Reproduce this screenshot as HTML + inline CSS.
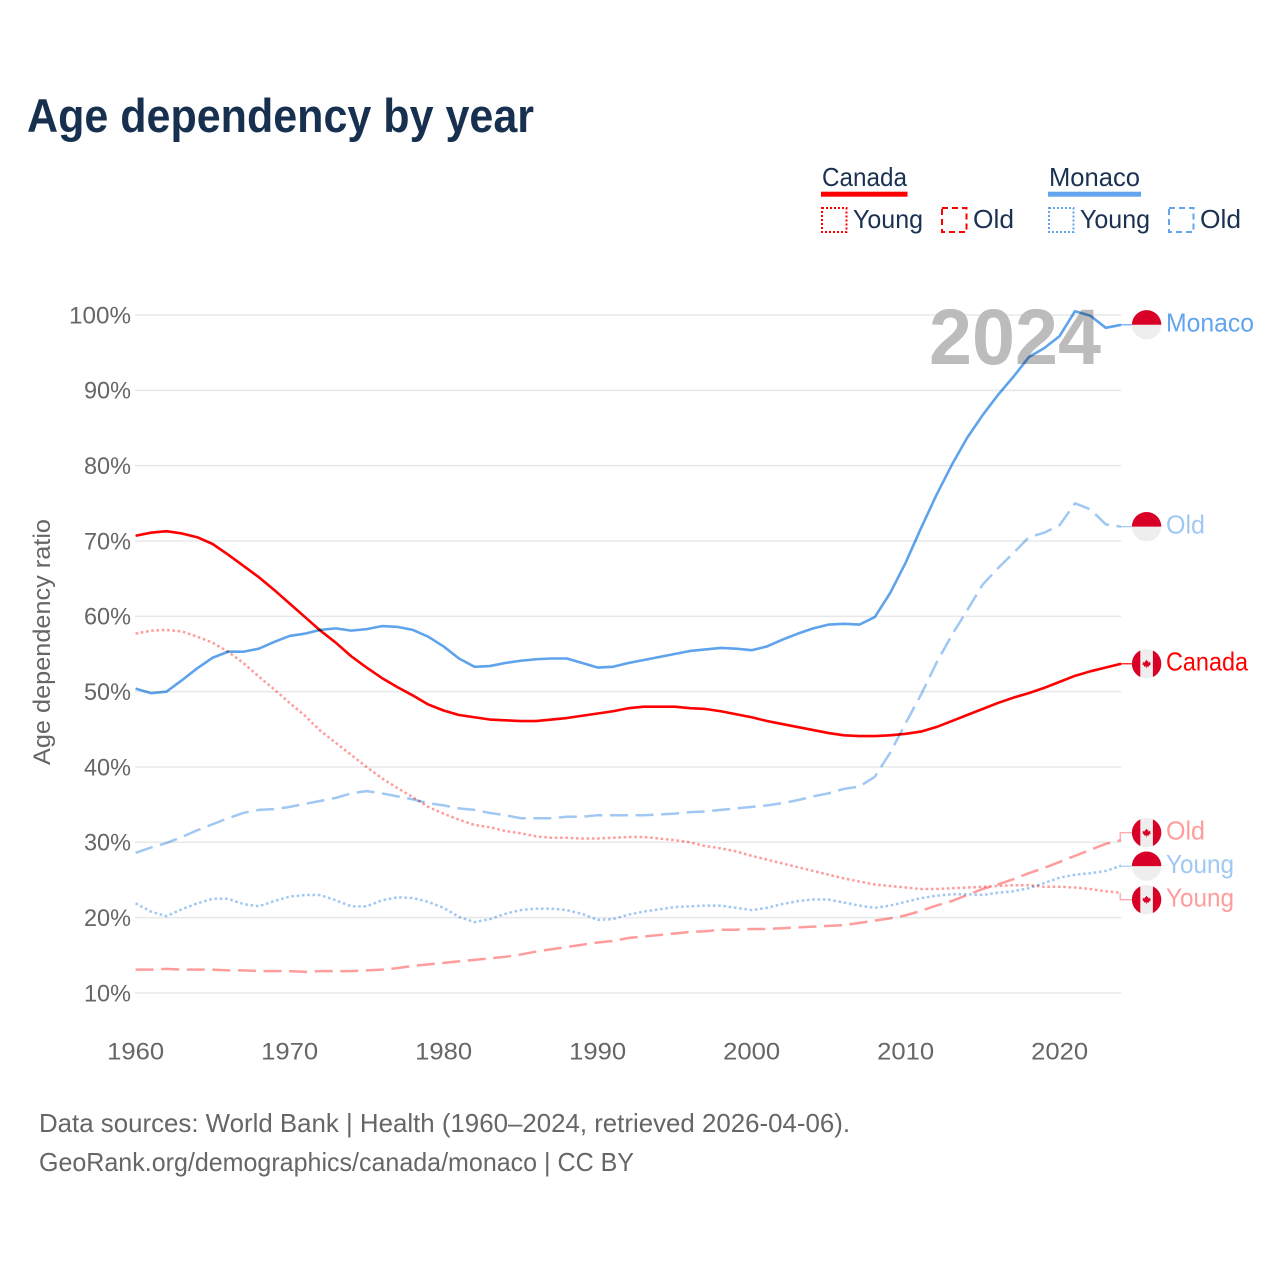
<!DOCTYPE html>
<html lang="en">
<head>
<meta charset="utf-8">
<title>Age dependency by year</title>
<style>
html,body{margin:0;padding:0;background:#fff;}
svg{display:block;font-family:"Liberation Sans",sans-serif;}
</style>
</head>
<body>
<svg id="chart" xmlns="http://www.w3.org/2000/svg" width="1280" height="1280" viewBox="0 0 1280 1280">
  <rect x="0" y="0" width="1280" height="1280" fill="#fff"/>
  <text x="27" y="132" font-size="47" font-weight="700" fill="#18304f" textLength="507" lengthAdjust="spacingAndGlyphs">Age dependency by year</text>

  <g font-size="26" fill="#1a3152">
    <text x="822" y="186" textLength="85" lengthAdjust="spacingAndGlyphs">Canada</text>
    <rect x="821" y="191.7" width="86.5" height="5" fill="#ff0000"/>
    <rect x="822" y="208" width="24.5" height="24" fill="none" stroke="#ff0000" stroke-width="2" stroke-dasharray="2 2"/>
    <text x="853" y="228" textLength="70" lengthAdjust="spacingAndGlyphs">Young</text>
    <rect x="942" y="208" width="24.5" height="24" fill="none" stroke="#ff0000" stroke-width="2" stroke-dasharray="6 4"/>
    <text x="973" y="228" textLength="41" lengthAdjust="spacingAndGlyphs">Old</text>
    <text x="1049" y="186" textLength="91" lengthAdjust="spacingAndGlyphs">Monaco</text>
    <rect x="1048" y="191.7" width="93" height="5" fill="#62a5ee"/>
    <rect x="1049" y="208" width="24.5" height="24" fill="none" stroke="#62a5ee" stroke-width="2" stroke-dasharray="2 2"/>
    <text x="1080" y="228" textLength="70" lengthAdjust="spacingAndGlyphs">Young</text>
    <rect x="1169" y="208" width="24.5" height="24" fill="none" stroke="#62a5ee" stroke-width="2" stroke-dasharray="6 4"/>
    <text x="1200" y="228" textLength="41" lengthAdjust="spacingAndGlyphs">Old</text>
  </g>

  <g id="grid"></g>
  <g id="yticks" font-size="24" fill="#666"></g>
  <g id="xticks" font-size="24" fill="#666"></g>
  <text transform="translate(50,765) rotate(-90)" x="0" y="0" font-size="24" fill="#666" textLength="246" lengthAdjust="spacingAndGlyphs">Age dependency ratio</text>

  <text x="1101" y="364" text-anchor="end" font-size="79" font-weight="700" fill="#bcbcbc" textLength="172" lengthAdjust="spacingAndGlyphs">2024</text>

  <g id="series"></g>
  <g id="labels" font-size="26"></g>

  <g font-size="26" fill="#666">
    <text x="39" y="1132" textLength="811" lengthAdjust="spacingAndGlyphs">Data sources: World Bank | Health (1960–2024, retrieved 2026-04-06).</text>
    <text x="39" y="1171" textLength="595" lengthAdjust="spacingAndGlyphs">GeoRank.org/demographics/canada/monaco | CC BY</text>
  </g>
</svg>

<script>
const years = [1960,1961,1962,1963,1964,1965,1966,1967,1968,1969,1970,1971,1972,1973,1974,1975,1976,1977,1978,1979,1980,1981,1982,1983,1984,1985,1986,1987,1988,1989,1990,1991,1992,1993,1994,1995,1996,1997,1998,1999,2000,2001,2002,2003,2004,2005,2006,2007,2008,2009,2010,2011,2012,2013,2014,2015,2016,2017,2018,2019,2020,2021,2022,2023,2024];
const canadaTotal = [70.7,71.1,71.3,71.0,70.5,69.6,68.2,66.7,65.2,63.5,61.7,59.9,58.1,56.5,54.7,53.2,51.8,50.6,49.5,48.3,47.5,46.9,46.6,46.3,46.2,46.1,46.1,46.3,46.5,46.8,47.1,47.4,47.8,48.0,48.0,48.0,47.8,47.7,47.4,47.0,46.6,46.1,45.7,45.3,44.9,44.5,44.2,44.1,44.1,44.2,44.4,44.7,45.3,46.1,46.9,47.7,48.5,49.2,49.8,50.5,51.3,52.1,52.7,53.2,53.7];
const canadaYoung = [57.7,58.1,58.2,58.0,57.3,56.5,55.3,53.8,52.0,50.3,48.5,46.8,44.8,43.2,41.6,40.0,38.5,37.2,36.0,34.7,33.8,33.0,32.3,32.0,31.5,31.2,30.8,30.6,30.6,30.5,30.5,30.6,30.7,30.7,30.5,30.3,30.0,29.5,29.2,28.8,28.2,27.7,27.2,26.7,26.2,25.7,25.2,24.8,24.4,24.2,24.0,23.8,23.8,23.9,24.0,24.1,24.2,24.3,24.3,24.1,24.1,24.0,23.8,23.5,23.3];
const canadaOld = [13.1,13.1,13.2,13.1,13.1,13.1,13.0,13.0,12.9,12.9,12.9,12.8,12.9,12.9,12.9,13.0,13.1,13.3,13.6,13.8,14.0,14.2,14.4,14.6,14.8,15.1,15.5,15.8,16.1,16.4,16.7,16.9,17.3,17.5,17.7,17.9,18.1,18.2,18.4,18.4,18.5,18.5,18.6,18.7,18.8,18.9,19.0,19.3,19.6,19.9,20.3,20.9,21.6,22.2,23.0,23.8,24.4,25.1,25.9,26.6,27.4,28.2,29.0,29.8,30.3];
const monacoTotal = [50.4,49.8,50.0,51.5,53.1,54.5,55.3,55.3,55.7,56.6,57.4,57.7,58.2,58.4,58.1,58.3,58.7,58.6,58.2,57.3,56.0,54.4,53.3,53.4,53.8,54.1,54.3,54.4,54.4,53.8,53.2,53.3,53.8,54.2,54.6,55.0,55.4,55.6,55.8,55.7,55.5,56.0,56.9,57.7,58.4,58.9,59.0,58.9,59.9,63.1,67.1,71.7,76.1,80.1,83.7,86.7,89.4,91.8,94.4,95.6,97.2,100.5,99.9,98.3,98.7];
const monacoYoung = [21.9,20.8,20.2,21.1,21.9,22.5,22.5,21.8,21.5,22.2,22.8,23.0,23.0,22.3,21.5,21.5,22.3,22.7,22.6,22.1,21.3,20.1,19.4,19.8,20.5,21.0,21.2,21.2,21.0,20.5,19.7,19.8,20.4,20.8,21.1,21.4,21.5,21.6,21.6,21.3,21.0,21.3,21.8,22.2,22.4,22.4,22.0,21.6,21.3,21.6,22.1,22.6,22.9,23.1,23.1,23.0,23.3,23.5,23.9,24.6,25.3,25.7,25.9,26.2,26.9];
const monacoOld = [28.6,29.3,29.9,30.7,31.6,32.4,33.2,33.9,34.3,34.4,34.7,35.1,35.5,35.9,36.5,36.8,36.5,36.1,35.7,35.2,34.9,34.5,34.3,33.9,33.6,33.2,33.2,33.2,33.4,33.4,33.6,33.6,33.6,33.6,33.7,33.8,34.0,34.1,34.3,34.5,34.7,34.9,35.2,35.6,36.1,36.5,37.1,37.4,38.7,41.9,45.8,49.6,53.8,57.5,60.8,64.2,66.4,68.4,70.5,71.1,72.1,75.0,74.2,72.2,71.9];
const yTickValues = [10,20,30,40,50,60,70,80,90,100];
const xTickValues = [1960,1970,1980,1990,2000,2010,2020];

const NS = 'http://www.w3.org/2000/svg';
const xScale = year => 135.6 + (year - 1960) * 15.4;
const yScale = value => 315 + (100 - value) * 7.533;

function make(tag, parent, attrs) {
  const el = document.createElementNS(NS, tag);
  for (const k in attrs) el.setAttribute(k, attrs[k]);
  parent.appendChild(el);
  return el;
}

const gridG = document.getElementById('grid');
const yG = document.getElementById('yticks');
const xG = document.getElementById('xticks');

yTickValues.forEach(v => {
  const line = make('line', gridG, {x1: 135, x2: xScale(2024), y1: yScale(v), y2: yScale(v), stroke: '#e8e8e8', 'stroke-width': 1.5});
  
  
  const label = v + '%';
  const t = make('text', yG, {x: 131, y: yScale(v) + 8.3, 'text-anchor': 'end', textLength: v === 100 ? 62 : 47, lengthAdjust: 'spacingAndGlyphs'});
  t.textContent = label;
  
  
});

xTickValues.forEach(v => {
  const t = make('text', xG, {x: xScale(v), y: 1059.5, 'text-anchor': 'middle', textLength: 57, lengthAdjust: 'spacingAndGlyphs'});
  t.textContent = String(v);
  
  
});

const DASH = '18 7.6';
const DOT = '2.6 2.7';
const seriesG = document.getElementById('series');
const labelG = document.getElementById('labels');

function drawLine(values, name, color, width, dash) {
  const d = values.map((v, i) => (i ? 'L' : 'M') + xScale(years[i]).toFixed(2) + ' ' + yScale(v).toFixed(2)).join(' ');
  const path = make('path', seriesG, {d: d, fill: 'none', stroke: color, 'stroke-width': width, 'stroke-linejoin': 'round'});
  if (dash) path.setAttribute('stroke-dasharray', dash);
  path.style.mixBlendMode = 'multiply';
  
  
}

drawLine(canadaOld, 'line-canada-old', '#ff9c9c', 2.5, DASH);
drawLine(canadaYoung, 'line-canada-young', '#ff9c9c', 2.5, DOT);
drawLine(monacoOld, 'line-monaco-old', '#a0c8f3', 2.5, DASH);
drawLine(monacoYoung, 'line-monaco-young', '#a0c8f3', 2.5, DOT);
drawLine(monacoTotal, 'line-monaco-total', '#5ea3ec', 2.6, null);
drawLine(canadaTotal, 'line-canada-total', '#ff0000', 2.6, null);

const endLabels = [
  {key: 'monaco-total', text: 'Monaco', flag: 'mc', color: '#62a5ee', line: '#62a5ee', values: monacoTotal},
  {key: 'monaco-old', text: 'Old', flag: 'mc', color: '#a0c8f3', line: '#a0c8f3', values: monacoOld},
  {key: 'canada-total', text: 'Canada', flag: 'ca', color: '#ff0000', line: '#ff0000', values: canadaTotal},
  {key: 'canada-old', text: 'Old', flag: 'ca', color: '#ff9c9c', line: '#ff9c9c', values: canadaOld},
  {key: 'monaco-young', text: 'Young', flag: 'mc', color: '#a0c8f3', line: '#a0c8f3', values: monacoYoung},
  {key: 'canada-young', text: 'Young', flag: 'ca', color: '#ff9c9c', line: '#ff9c9c', values: canadaYoung}
];

endLabels.forEach(l => { l.endY = yScale(l.values[l.values.length - 1]); l.y = l.endY; });
endLabels.sort((a, b) => a.endY - b.endY);
const LABEL_GAP = 33.5;
for (let iter = 0; iter < 200; iter++) {
  for (let i = 1; i < endLabels.length; i++) {
    const overlap = LABEL_GAP - (endLabels[i].y - endLabels[i - 1].y);
    if (overlap > 0) {
      endLabels[i - 1].y -= overlap / 2;
      endLabels[i].y += overlap / 2;
    }
  }
}

const FLAG_X = 1146.6;
const FLAG_R = 14.7;
const END_X = xScale(2024);
const leafPoints = '0,-6.2 1.3,-3.6 2.6,-4.3 2.1,-1.1 4,-3 4.5,-1.8 6,-2.1 5.4,0.2 6.2,0.7 3.2,3.2 3.6,4.4 0.4,4 0.4,6.8 -0.4,6.8 -0.4,4 -3.6,4.4 -3.2,3.2 -6.2,0.7 -5.4,0.2 -6,-2.1 -4.5,-1.8 -4,-3 -2.1,-1.1 -2.6,-4.3 -1.3,-3.6';

endLabels.forEach(l => {
  const g = make('g', labelG, {});
  
  

  const moved = Math.abs(l.y - l.endY) > 0.5;
  const leaderD = moved
    ? `M${END_X - 1} ${l.endY} V${l.y} H${FLAG_X - FLAG_R}`
    : `M${END_X} ${l.endY} H${FLAG_X - FLAG_R}`;
  const leader = make('path', g, {d: leaderD, fill: 'none', stroke: l.line, 'stroke-width': 1.2});
  
  

  const flag = make('g', g, {transform: `translate(${FLAG_X},${l.y})`});
  
  
  make('circle', flag, {cx: 0, cy: 0, r: FLAG_R, fill: '#eeeeee'});
  if (l.flag === 'mc') {
    make('path', flag, {d: `M${-FLAG_R} 0 A${FLAG_R} ${FLAG_R} 0 0 1 ${FLAG_R} 0 Z`, fill: '#d80027'});
  } else {
    const b = 6.3;
    const h = Math.sqrt(FLAG_R * FLAG_R - b * b);
    make('path', flag, {d: `M${-b} ${-h} A${FLAG_R} ${FLAG_R} 0 0 0 ${-b} ${h} Z`, fill: '#d80027'});
    make('path', flag, {d: `M${b} ${-h} A${FLAG_R} ${FLAG_R} 0 0 1 ${b} ${h} Z`, fill: '#d80027'});
    make('polygon', flag, {points: leafPoints, fill: '#d80027', transform: 'scale(0.68)'});
  }

  const widths = {Monaco: 88, Canada: 82, Young: 68, Old: 39};
  const t = make('text', g, {x: 1166, y: l.y + 6.8, fill: l.color, textLength: widths[l.text], lengthAdjust: 'spacingAndGlyphs'});
  t.textContent = l.text;
  
  
});
</script>
</body>
</html>
